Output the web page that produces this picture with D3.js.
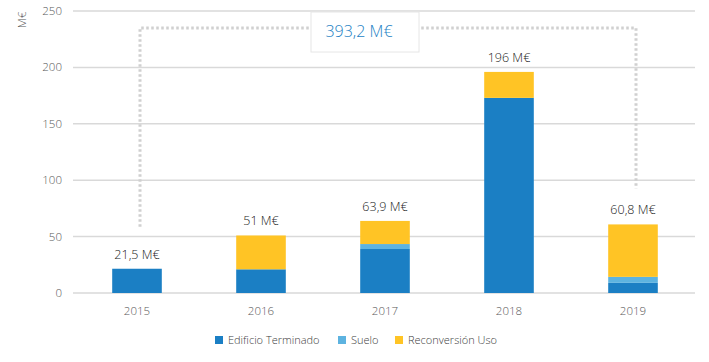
<!DOCTYPE html>
<html>
<head>
<meta charset="utf-8">
<script src="https://cdn.jsdelivr.net/npm/d3@7"></script>
<style>
	body { margin: 0; background: #fff; }
	svg text { font-family: "Open Sans", "Noto Sans", "DejaVu Sans", sans-serif; font-weight: 300; }
</style>
</head>
<body>
<div id="chart"></div>
<script>
"use strict";

// data (M€)
const years = ["2015", "2016", "2017", "2018", "2019"];
const edificio = [21.5, 21, 39, 173, 9];
const suelo = [0, 0, 4.4, 0, 5.3];
const reconversion = [0, 30, 20.5, 23, 46.5];
const totalLabels = ["21,5 M€", "51 M€", "63,9 M€", "196 M€", "60,8 M€"];
const yTicks = [0, 50, 100, 150, 200, 250];
const seriesNames = ["Edificio Terminado", "Suelo", "Reconversión Uso"];
const bracketLabel = "393,2 M€";

const colors = ["#1b7fc4", "#5db3e0", "#ffc425"];

const w = 709, h = 362;
const margin = { top: 11, right: 14, bottom: 69, left: 75 };

const svg = d3.select("#chart")
	.append("svg")
	.attr("width", w)
	.attr("height", h);

const x = d3.scaleBand()
	.domain(years)
	.range([margin.left, w - margin.right])
	.paddingInner(0.6)
	.paddingOuter(0.3);

const y = d3.scaleLinear()
	.domain([0, 250])
	.range([h - margin.bottom, margin.top]);

// gridlines
svg.append("g")
	.selectAll("line")
	.data(yTicks)
	.enter()
	.append("line")
	.attr("x1", margin.left - 2)
	.attr("x2", w - margin.right)
	.attr("y1", d => y(d))
	.attr("y2", d => y(d))
	.attr("stroke", "#d9d9d9")
	.attr("stroke-width", 1.5);

// y tick labels
svg.append("g")
	.selectAll("text")
	.data(yTicks)
	.enter()
	.append("text")
	.attr("x", 62)
	.attr("y", d => y(d))
	.attr("dy", "0.35em")
	.attr("text-anchor", "end")
	.attr("font-size", 11.5)
	.attr("fill", "#595959")
	.text(d => d);

// y axis title
svg.append("text")
	.attr("transform", "translate(26,20) rotate(-90)")
	.attr("text-anchor", "middle")
	.attr("font-size", 11.5)
	.attr("fill", "#595959")
	.text("M€");

// stacked bars
const table = years.map((yr, i) => ({
	year: yr, edificio: edificio[i], suelo: suelo[i], reconversion: reconversion[i]
}));
const stack = d3.stack().keys(["edificio", "suelo", "reconversion"]);
const layers = stack(table);

svg.append("g")
	.selectAll("g")
	.data(layers)
	.enter()
	.append("g")
	.attr("fill", (d, i) => colors[i])
	.selectAll("rect")
	.data(d => d)
	.enter()
	.append("rect")
	.attr("x", d => x(d.data.year))
	.attr("width", x.bandwidth())
	.attr("y", d => y(d[1]))
	.attr("height", d => y(d[0]) - y(d[1]));

// total labels
const totals = years.map((yr, i) => edificio[i] + suelo[i] + reconversion[i]);
svg.append("g")
	.selectAll("text")
	.data(years)
	.enter()
	.append("text")
	.attr("x", d => x(d) + x.bandwidth() / 2)
	.attr("y", (d, i) => y(totals[i]) - 10)
	.attr("text-anchor", "middle")
	.attr("font-size", 12.5)
	.attr("fill", "#1a1a1a")
	.text((d, i) => totalLabels[i]);

// x labels
svg.append("g")
	.selectAll("text")
	.data(years)
	.enter()
	.append("text")
	.attr("x", d => x(d) + x.bandwidth() / 2)
	.attr("y", h - margin.bottom + 22)
	.attr("text-anchor", "middle")
	.attr("font-size", 11.5)
	.attr("fill", "#595959")
	.text(d => d);

// dotted bracket from 2015 to 2019
const bx1 = x("2015") + x.bandwidth() / 2 + 3;
const bx2 = x("2019") + x.bandwidth() / 2 + 3;
const by = 28;
svg.append("path")
	.attr("d", d3.line()([[bx1, y(totals[0]) - 42], [bx1, by], [bx2, by], [bx2, y(totals[4]) - 36]]))
	.attr("fill", "none")
	.attr("stroke", "#d0d0d0")
	.attr("stroke-width", 3)
	.attr("stroke-dasharray", "2.5,2.5");

// label box
const boxW = 108, boxH = 40, boxX = 311, boxY = 12;
svg.append("rect")
	.attr("x", boxX)
	.attr("y", boxY)
	.attr("width", boxW)
	.attr("height", boxH)
	.attr("fill", "#fff")
	.attr("stroke", "#e6e6e6")
	.attr("stroke-width", 1);
svg.append("text")
	.attr("x", boxX + boxW / 2 - 6)
	.attr("y", boxY + boxH / 2 - 1)
	.attr("dy", "0.35em")
	.attr("text-anchor", "middle")
	.attr("font-size", 16)
	.attr("fill", "#1b7fc4")
	.text(bracketLabel);

// legend
const legendX = [215, 338, 395];
const legend = svg.append("g")
	.selectAll("g")
	.data(seriesNames)
	.enter()
	.append("g")
	.attr("transform", (d, i) => "translate(" + legendX[i] + ",340)");
legend.append("rect")
	.attr("x", 0)
	.attr("y", -4)
	.attr("width", 8)
	.attr("height", 8)
	.attr("fill", (d, i) => colors[i]);
legend.append("text")
	.attr("x", 13)
	.attr("y", 0)
	.attr("dy", "0.35em")
	.attr("font-size", 11)
	.attr("fill", "#404040")
	.text(d => d);
</script>
</body>
</html>
